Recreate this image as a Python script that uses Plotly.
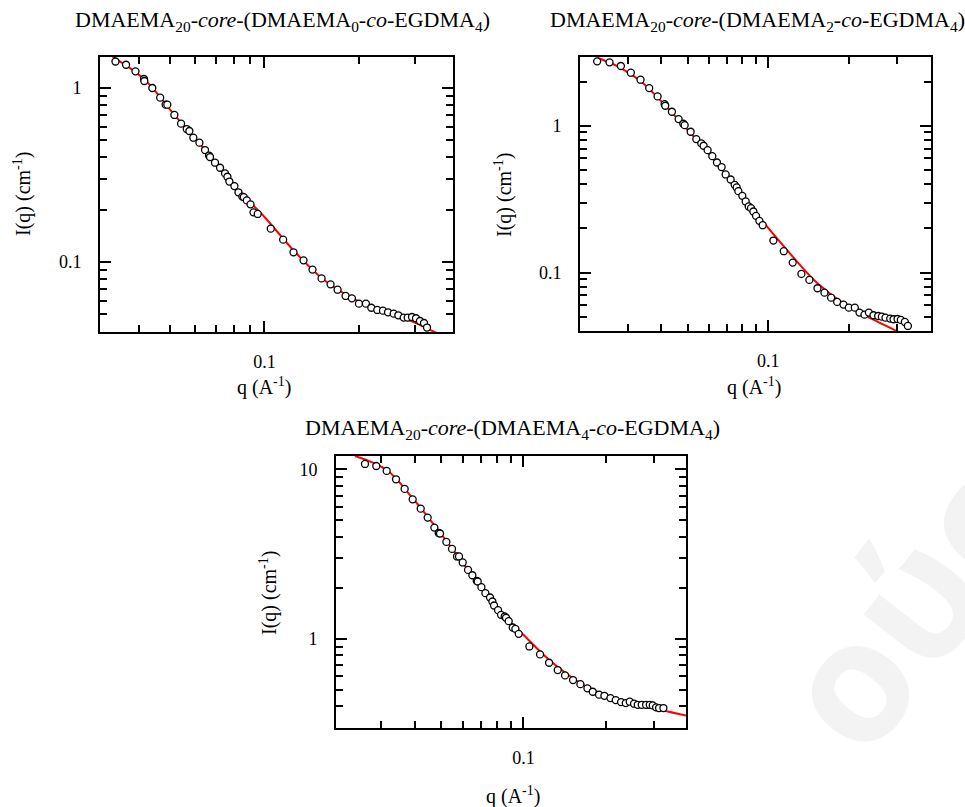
import math
import plotly.graph_objects as go

W, H = 965, 807

# ---------------- Panel 1: DMAEMA20-core-(DMAEMA0-co-EGDMA4) ----------------
q1 = [0.0337, 0.0364, 0.0390, 0.0415, 0.0416, 0.0441, 0.0467, 0.0486, 0.0492, 0.0518,
      0.0544, 0.0567, 0.0578, 0.0595, 0.0622, 0.0648, 0.0667, 0.0672, 0.0697, 0.0723,
      0.0750, 0.0763, 0.0774, 0.0803, 0.0827, 0.0851, 0.0860, 0.0879, 0.0903, 0.0923,
      0.0952, 0.1047, 0.1146, 0.1236, 0.1330, 0.1420, 0.1517, 0.1620, 0.1705, 0.1808,
      0.1893, 0.1993, 0.2097, 0.2181, 0.2279, 0.2375, 0.2464, 0.2568, 0.2657, 0.2763,
      0.2844, 0.2936, 0.3023, 0.3112, 0.3205, 0.3276]
I1 = [1.42, 1.36, 1.247, 1.126, 1.097, 1.0, 0.880, 0.802, 0.802, 0.700,
      0.624, 0.581, 0.566, 0.518, 0.485, 0.440, 0.409, 0.401, 0.372, 0.348,
      0.323, 0.309, 0.290, 0.273, 0.2515, 0.2374, 0.236, 0.226, 0.2145, 0.193,
      0.1888, 0.1555, 0.1344, 0.1137, 0.1022, 0.0904, 0.0805, 0.0744, 0.0693, 0.0638,
      0.0618, 0.0576, 0.0576, 0.0546, 0.0530, 0.0525, 0.0514, 0.0505, 0.0494, 0.0479,
      0.0479, 0.0483, 0.0475, 0.0458, 0.0446, 0.0420]
q1_fit = [0.0330, 0.0415, 0.0518, 0.0648, 0.0803, 0.1000, 0.1236, 0.1517, 0.1893, 0.2380, 0.2975, 0.3440, 0.3960]
I1_fit = [1.51, 1.126, 0.700, 0.440, 0.273, 0.1815, 0.1167, 0.0810, 0.0622, 0.0517, 0.0452, 0.0398, 0.0363]

# ---------------- Panel 2: DMAEMA20-core-(DMAEMA2-co-EGDMA4) ----------------
q2 = [0.02305, 0.02563, 0.02825, 0.03077, 0.03343, 0.03601, 0.03869, 0.04109, 0.04132, 0.04375,
      0.04633, 0.04823, 0.04879, 0.05137, 0.05392, 0.05628, 0.05741, 0.05941, 0.06185, 0.06437,
      0.06700, 0.06934, 0.07238, 0.07492, 0.07621, 0.07731, 0.08000, 0.08233, 0.08448, 0.08617,
      0.08794, 0.08995, 0.09257, 0.09526, 0.1044, 0.1141, 0.1232, 0.1327, 0.1421, 0.1523,
      0.1617, 0.1712, 0.1803, 0.1904, 0.1993, 0.2098, 0.2184, 0.2279, 0.2366, 0.2462,
      0.2563, 0.2645, 0.2729, 0.2841, 0.2923, 0.3025, 0.3112, 0.3221, 0.3306]
I2 = [2.746, 2.703, 2.552, 2.298, 2.059, 1.806, 1.585, 1.405, 1.369, 1.246,
      1.110, 1.032, 1.010, 0.910, 0.811, 0.758, 0.731, 0.682, 0.621, 0.562,
      0.523, 0.466, 0.4305, 0.396, 0.380, 0.3585, 0.333, 0.305, 0.282, 0.2746,
      0.2606, 0.2434, 0.225, 0.2102, 0.1653, 0.1398, 0.1170, 0.0979, 0.0891, 0.0782,
      0.0730, 0.0675, 0.0631, 0.0605, 0.0577, 0.0577, 0.0534, 0.0517, 0.0534, 0.0512,
      0.0506, 0.0501, 0.0493, 0.0486, 0.0481, 0.0483, 0.0476, 0.0461, 0.0433]
q2_fit = [0.02325, 0.02825, 0.03343, 0.04109, 0.05137, 0.06437, 0.0800, 0.1000, 0.1232, 0.1523, 0.1904, 0.2366, 0.3000, 0.3470]
I2_fit = [2.893, 2.473, 2.016, 1.391, 0.891, 0.556, 0.330, 0.2006, 0.1285, 0.0846, 0.0618, 0.0496, 0.0400, 0.0348]

# ---------------- Panel 3: DMAEMA20-core-(DMAEMA4-co-EGDMA4) ----------------
q3 = [0.0263, 0.02893, 0.03158, 0.03417, 0.03675, 0.03932, 0.04207, 0.04462, 0.04721, 0.04897,
      0.04952, 0.05224, 0.05479, 0.05715, 0.05812, 0.05995, 0.06271, 0.06504, 0.06747, 0.06804,
      0.07019, 0.07259, 0.07550, 0.07700, 0.07810, 0.08078, 0.08283, 0.08542, 0.08640, 0.08836,
      0.09141, 0.09348, 0.09614, 0.1052, 0.1151, 0.1242, 0.1336, 0.1421, 0.1520, 0.1617,
      0.1716, 0.1795, 0.1893, 0.1980, 0.2083, 0.2179, 0.2279, 0.2371, 0.2452, 0.2543,
      0.2623, 0.2713, 0.2814, 0.2903, 0.2977, 0.3062, 0.3140, 0.3257]
I3 = [10.75, 10.46, 9.78, 8.73, 7.66, 6.65, 5.86, 5.19, 4.53, 4.21,
      4.18, 3.73, 3.39, 3.06, 3.06, 2.82, 2.55, 2.37, 2.197, 2.178,
      2.016, 1.858, 1.752, 1.660, 1.572, 1.476, 1.385, 1.354, 1.330, 1.271,
      1.166, 1.145, 1.070, 0.901, 0.809, 0.722, 0.654, 0.608, 0.571, 0.540,
      0.510, 0.487, 0.468, 0.461, 0.447, 0.435, 0.423, 0.4176, 0.4253, 0.414,
      0.408, 0.408, 0.408, 0.408, 0.4046, 0.3939, 0.3903, 0.3903]
q3_fit = [0.02417, 0.03158, 0.03932, 0.04952, 0.06271, 0.0781, 0.1000, 0.1242, 0.1617, 0.2083, 0.2676, 0.3257, 0.3940]
I3_fit = [11.98, 9.91, 6.75, 4.23, 2.55, 1.586, 1.056, 0.752, 0.548, 0.453, 0.403, 0.378, 0.352]

titles = [
    "DMAEMA<sub>20</sub>-<i>core</i>-(DMAEMA<sub>0</sub>-<i>co</i>-EGDMA<sub>4</sub>)",
    "DMAEMA<sub>20</sub>-<i>core</i>-(DMAEMA<sub>2</sub>-<i>co</i>-EGDMA<sub>4</sub>)",
    "DMAEMA<sub>20</sub>-<i>core</i>-(DMAEMA<sub>4</sub>-<i>co</i>-EGDMA<sub>4</sub>)",
]
x_title = "q (A<sup>-1</sup>)"
y_title = "I(q) (cm<sup>-1</sup>)"
x_tickvals = [0.1]
x_ticktext = ["0.1"]
x_minor = [0.02, 0.03, 0.04, 0.05, 0.06, 0.07, 0.08, 0.09, 0.2, 0.3, 0.4]
y_minor = [0.03, 0.04, 0.05, 0.06, 0.07, 0.08, 0.09, 0.2, 0.3, 0.4, 0.5, 0.6, 0.7, 0.8, 0.9,
           2, 3, 4, 5, 6, 7, 8, 9]
watermark = "ούς"

FONT = "Liberation Serif"
TITLE_SIZE = 22
AXTITLE_SIZE = 20
TICK_SIZE = 18

# pixel boxes (left, top, right, bottom)
boxes = [(100, 57, 453, 332), (580, 57, 931, 331), (336, 456, 686, 728)]
xranges = [(0.0301, 0.396), (0.0199, 0.403), (0.0206, 0.394)]
yranges = [(0.0396, 1.507), (0.040, 2.94), (0.2976, 11.98)]
ytickvals = [[0.1, 1], [0.1, 1], [1, 10]]
ytext = [["0.1", "1"], ["0.1", "1"], ["1", "10"]]

fig = go.Figure()
data = [(q1, I1, q1_fit, I1_fit), (q2, I2, q2_fit, I2_fit), (q3, I3, q3_fit, I3_fit)]
for i, (q, I, qf, If) in enumerate(data):
    ax = "" if i == 0 else str(i + 1)
    fig.add_trace(go.Scatter(x=qf, y=If, mode="lines", line=dict(color="#ff0000", width=2, shape="spline"),
                             xaxis="x" + ax, yaxis="y" + ax, showlegend=False, cliponaxis=True))
    fig.add_trace(go.Scatter(x=q, y=I, mode="markers",
                             marker=dict(symbol="circle", size=7, color="white",
                                         line=dict(color="black", width=1.3)),
                             xaxis="x" + ax, yaxis="y" + ax, showlegend=False, cliponaxis=False))

layout = dict(width=W, height=H, margin=dict(l=0, r=0, t=0, b=0),
              paper_bgcolor="white", plot_bgcolor="white", showlegend=False,
              font=dict(family=FONT, size=TICK_SIZE, color="black"))

for i, (l, t, r, b) in enumerate(boxes):
    ax = "" if i == 0 else str(i + 1)
    common = dict(showgrid=False, zeroline=False, showline=True, linecolor="black", linewidth=2,
                  mirror="ticks", ticks="inside", ticklen=11, tickwidth=1.5, tickcolor="black",
                  tickfont=dict(family=FONT, size=TICK_SIZE, color="black"), type="log")
    layout["xaxis" + ax] = dict(common, domain=[l / W, r / W], anchor="y" + ax,
                                range=[math.log10(xranges[i][0]), math.log10(xranges[i][1])],
                                tickmode="array", tickvals=x_tickvals, ticktext=x_ticktext,
                                ticklabelstandoff=12,
                                minor=dict(tickmode="array", tickvals=x_minor, ticks="inside", ticklen=7,
                                           tickwidth=1.5, tickcolor="black", showgrid=False))
    layout["yaxis" + ax] = dict(common, domain=[1 - b / H, 1 - t / H], anchor="x" + ax,
                                range=[math.log10(yranges[i][0]), math.log10(yranges[i][1])],
                                tickmode="array", tickvals=ytickvals[i], ticktext=ytext[i],
                                ticklabelstandoff=13,
                                minor=dict(tickmode="array", tickvals=y_minor, ticks="inside", ticklen=7,
                                           tickwidth=1.5, tickcolor="black", showgrid=False))

fig.update_layout(**layout)

ann = []
title_pos = [(282, 21), (757, 21), (512, 429)]
xt_pos = [(264, 386), (754, 386), (513, 795)]
yt_pos = [(23, 194), (503, 195), (268, 593)]
for i in range(3):
    ann.append(dict(text=titles[i], x=title_pos[i][0] / W, y=1 - title_pos[i][1] / H, xref="paper", yref="paper",
                    xanchor="center", yanchor="middle", showarrow=False, font=dict(family=FONT, size=TITLE_SIZE)))
    ann.append(dict(text=x_title, x=xt_pos[i][0] / W, y=1 - xt_pos[i][1] / H, xref="paper", yref="paper",
                    xanchor="center", yanchor="middle", showarrow=False, font=dict(family=FONT, size=AXTITLE_SIZE)))
    ann.append(dict(text=y_title, x=yt_pos[i][0] / W, y=1 - yt_pos[i][1] / H, xref="paper", yref="paper",
                    xanchor="center", yanchor="middle", showarrow=False, textangle=-90,
                    font=dict(family=FONT, size=AXTITLE_SIZE)))

# faint watermark
ann.append(dict(text="<b>" + watermark + "</b>", x=905 / W, y=1 - 605 / H, xref="paper", yref="paper",
                xanchor="center", yanchor="middle", showarrow=False, textangle=-52,
                font=dict(family="Open Sans", size=170, color="#f3f3f3")))
fig.update_layout(annotations=ann)

fig.write_html("out.html")
